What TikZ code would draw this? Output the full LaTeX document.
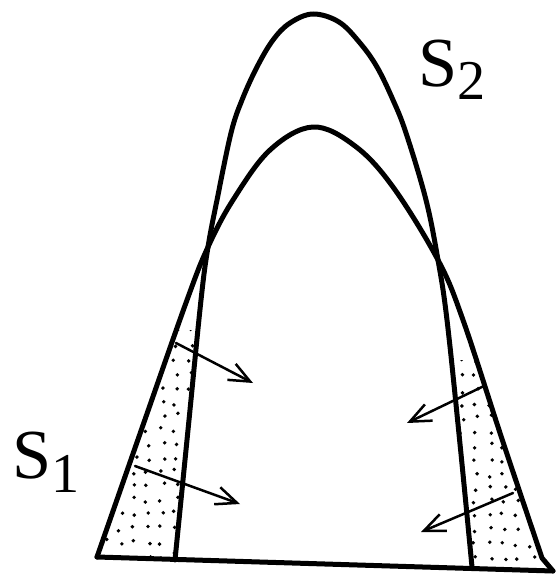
\documentclass[tikz,border=0pt]{standalone}
\usepackage{fontspec}
\setmainfont{Liberation Serif}
\usetikzlibrary{arrows.meta}
\begin{document}
\begin{tikzpicture}[x=0.02cm, y=-0.02cm, line join=round, line cap=round]
\useasboundingbox (0,0) rectangle (555,574);
\pgfmathsetseed{11}
\begin{scope}
\clip (97,557) -- (176,330) -- (198,330) -- (175,560) -- cycle;
\foreach \x in {92,106,...,200} \foreach \y in {332,346,...,570} \fill (\x+3*rand,\y+3*rand) circle (1.1pt);
\end{scope}
\begin{scope}
\clip (451,360) -- (476,360) -- (542,558) -- (553,571) -- (472,567) -- cycle;
\foreach \x in {448,462,...,556} \foreach \y in {362,376,...,575} \fill (\x+3*rand,\y+3*rand) circle (1.1pt);
\end{scope}
\draw[line width=0.1cm] plot[smooth, tension=0.6] coordinates {(97,557) (142,428) (187,300) (208,247) (233,200) (270,150) (313,127) (355,146) (393,187) (438,260) (463,320) (502,439) (542,558)} -- (553,571);
\draw[line width=0.1cm] plot[smooth, tension=0.6] coordinates {(175,560) (188,430) (201,300) (208,247) (217,200) (231,133) (242,100) (257,67) (273,40) (290,23) (313,14) (339,22) (360,43) (377,67) (393,100) (406,133) (426,200) (438,260) (447,320) (460,444) (472,567)};
\draw[line width=0.1cm] (97,557) -- (553,571);
\coordinate (la) at (176,343);
\coordinate (lb) at (253,383);
\coordinate (lc) at (135,466);
\coordinate (ld) at (240,504);
\coordinate (ra) at (484,386);
\coordinate (rb) at (407,423);
\coordinate (rc) at (513,493);
\coordinate (rd) at (421,532);
\draw[line width=0.05cm, -{Straight Barb[length=0.42cm, width=0.36cm]}] (la) -- (lb);
\draw[line width=0.05cm, -{Straight Barb[length=0.42cm, width=0.36cm]}] (lc) -- (ld);
\draw[line width=0.05cm, -{Straight Barb[length=0.42cm, width=0.36cm]}] (ra) -- (rb);
\draw[line width=0.05cm, -{Straight Barb[length=0.42cm, width=0.36cm]}] (rc) -- (rd);
\node[anchor=base west, inner sep=0, font=\fontsize{40}{42}\selectfont] (s1) at (12,478) {S\raisebox{-0.28cm}{\fontsize{32}{32}\selectfont 1}};
\node[anchor=base west, inner sep=0, font=\fontsize{40}{42}\selectfont] (s2) at (418,87) {S\raisebox{-0.26cm}{\fontsize{32}{32}\selectfont 2}};
\end{tikzpicture}
\end{document}
